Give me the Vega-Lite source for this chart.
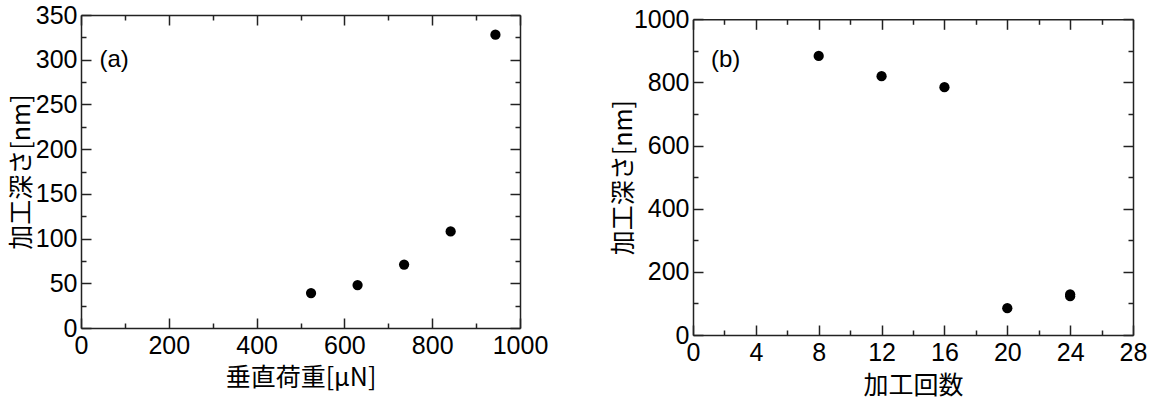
{
  "$schema": "https://vega.github.io/schema/vega-lite/v6.json",
  "padding": {"left": 9, "top": 3, "right": 0, "bottom": 0},
  "background": "white",
  "datasets": {
    "a": [
      {"load": 524, "depth": 39},
      {"load": 630, "depth": 48},
      {"load": 736, "depth": 71},
      {"load": 842, "depth": 108},
      {"load": 944, "depth": 328}
    ],
    "b": [
      {"count": 8, "depth": 884},
      {"count": 12, "depth": 820},
      {"count": 16, "depth": 785},
      {"count": 20, "depth": 85},
      {"count": 24, "depth": 123},
      {"count": 24, "depth": 129}
    ]
  },
  "columns": 2,
  "spacing": 63,
  "concat": [
    {
      "width": 439,
      "height": 313,
      "layer": [
        {
          "data": {"name": "a"},
          "mark": {"type": "point", "filled": true, "shape": "circle", "size": 105, "color": "#000", "opacity": 1},
          "encoding": {
            "x": {"field": "load", "type": "quantitative", "scale": {"domain": [0, 1000], "nice": false},
              "axis": {"orient": "bottom", "values": [0,100,200,300,400,500,600,700,800,900,1000], "format": "d",
                "tickSize": {"condition": {"test": "datum.value % 200 !== 0", "value": -5}, "value": -10},
                "labelExpr": "datum.value % 200 === 0 ? datum.label : ''", "labelPadding": 15,
                "title": "垂直荷重[μN]", "titlePadding": 2.5}},
            "y": {"field": "depth", "type": "quantitative", "scale": {"domain": [0, 350], "nice": false},
              "axis": {"orient": "left", "values": [0,25,50,75,100,125,150,175,200,225,250,275,300,325,350], "format": "d",
                "tickSize": {"condition": {"test": "datum.value % 50 !== 0", "value": -5}, "value": -10},
                "labelExpr": "datum.value % 50 === 0 ? datum.label : ''", "labelPadding": 14,
                "title": "加工深さ[nm]", "titlePadding": 0.5}}
          }
        },
        {
          "data": {"name": "a"},
          "mark": {"type": "point", "opacity": 0},
          "encoding": {
            "x": {"field": "load", "type": "quantitative",
              "axis": {"orient": "top", "values": [0,100,200,300,400,500,600,700,800,900,1000], "labels": false, "title": null,
                "tickSize": {"condition": {"test": "datum.value % 200 !== 0", "value": -5}, "value": -10}}},
            "y": {"field": "depth", "type": "quantitative",
              "axis": {"orient": "right", "values": [0,25,50,75,100,125,150,175,200,225,250,275,300,325,350], "labels": false, "title": null,
                "tickSize": {"condition": {"test": "datum.value % 50 !== 0", "value": -5}, "value": -10}}}
          }
        },
        {
          "data": {"values": [{"t": "(a)", "x": 42, "y": 300}]},
          "mark": {"type": "text", "align": "left", "baseline": "middle", "font": "Liberation Sans", "fontSize": 24, "color": "#000"},
          "encoding": {
            "x": {"field": "x", "type": "quantitative", "axis": null},
            "y": {"field": "y", "type": "quantitative", "axis": null},
            "text": {"field": "t"}
          }
        }
      ],
      "resolve": {"axis": {"x": "independent", "y": "independent"}}
    },
    {
      "width": 440,
      "height": 320,
      "layer": [
        {
          "data": {"name": "b"},
          "mark": {"type": "point", "filled": true, "shape": "circle", "size": 105, "color": "#000", "opacity": 1},
          "encoding": {
            "x": {"field": "count", "type": "quantitative", "scale": {"domain": [0, 28], "nice": false},
              "axis": {"orient": "bottom", "values": [0,2,4,6,8,10,12,14,16,18,20,22,24,26,28], "format": "d",
                "tickSize": {"condition": {"test": "datum.value % 4 !== 0", "value": -5}, "value": -10},
                "labelExpr": "datum.value % 4 === 0 ? datum.label : ''", "labelPadding": 15,
                "title": "加工回数", "titlePadding": 3}},
            "y": {"field": "depth", "type": "quantitative", "scale": {"domain": [0, 1000], "nice": false, "range": [320, 4.3]},
              "axis": {"orient": "left", "values": [0,100,200,300,400,500,600,700,800,900,1000], "format": "d",
                "tickSize": {"condition": {"test": "datum.value % 200 !== 0", "value": -5}, "value": -10},
                "labelExpr": "datum.value % 200 === 0 ? datum.label : ''", "labelPadding": 14,
                "title": "加工深さ[nm]", "titlePadding": -3.3}}
          }
        },
        {
          "data": {"name": "b"},
          "mark": {"type": "point", "opacity": 0},
          "encoding": {
            "x": {"field": "count", "type": "quantitative",
              "axis": {"orient": "top", "offset": -4.3, "values": [0,2,4,6,8,10,12,14,16,18,20,22,24,26,28], "labels": false, "title": null,
                "tickSize": {"condition": {"test": "datum.value % 4 !== 0", "value": -5}, "value": -10}}},
            "y": {"field": "depth", "type": "quantitative",
              "axis": {"orient": "right", "values": [0,100,200,300,400,500,600,700,800,900,1000], "labels": false, "title": null,
                "tickSize": {"condition": {"test": "datum.value % 200 !== 0", "value": -5}, "value": -10}}}
          }
        },
        {
          "data": {"values": [{"t": "(b)", "x": 1.14, "y": 870}]},
          "mark": {"type": "text", "align": "left", "baseline": "middle", "font": "Liberation Sans", "fontSize": 24, "color": "#000"},
          "encoding": {
            "x": {"field": "x", "type": "quantitative", "axis": null},
            "y": {"field": "y", "type": "quantitative", "axis": null},
            "text": {"field": "t"}
          }
        }
      ],
      "resolve": {"axis": {"x": "independent", "y": "independent"}}
    }
  ],
  "config": {
    "view": {"stroke": null},
    "axis": {
      "grid": false,
      "domainColor": "#222",
      "domainWidth": 1.5,
      "tickColor": "#222",
      "tickWidth": 1.5,
      "labelFont": "Liberation Sans",
      "labelFontSize": 25,
      "labelColor": "#000",
      "labelFlush": false,
      "labelOverlap": false,
      "labelBound": false,
      "titleFont": "Noto Sans CJK JP",
      "titleFontSize": 25,
      "titleFontWeight": "normal",
      "titleColor": "#000"
    }
  }
}
